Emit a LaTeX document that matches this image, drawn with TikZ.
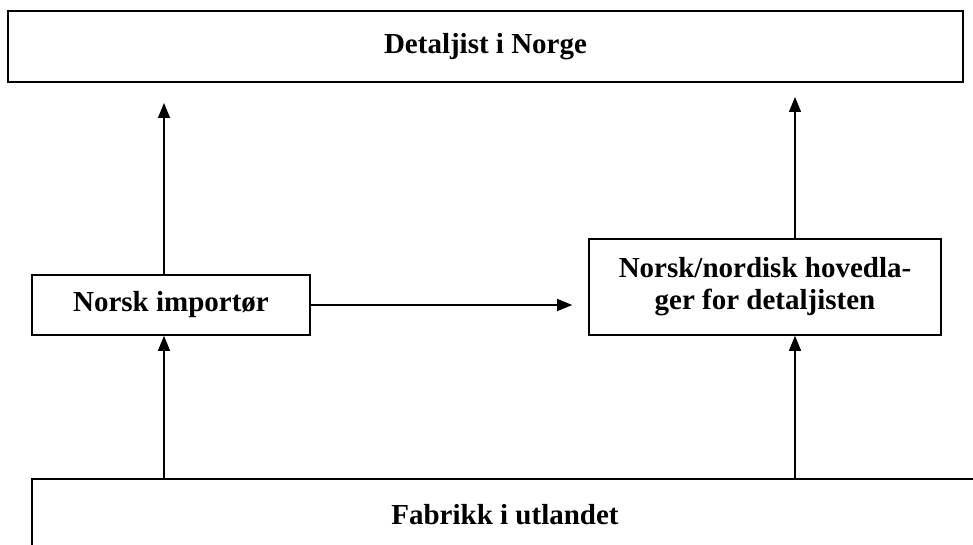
\documentclass[tikz,border=0pt]{standalone}
\usepackage{fontspec}
\setmainfont{Liberation Serif}
\usetikzlibrary{arrows.meta}
\begin{document}
\begin{tikzpicture}[x=1pt,y=-1pt,
  boxstyle/.style={draw, line width=1.6pt, inner sep=0pt, font=\fontsize{29}{32}\selectfont\bfseries},
  arr/.style={line width=1.3pt, -{Triangle[length=15pt,width=12pt]}}]
\useasboundingbox (0,0) rectangle (973,545);
\clip (0,0) rectangle (973,545);
\node[boxstyle, minimum width=955pt, minimum height=71pt] (top) at (485.5,46.5) {Detaljist i Norge};
\node[boxstyle, minimum width=278pt, minimum height=60pt] (imp) at (171,305) {Norsk importør};
\node[boxstyle, minimum width=352pt, minimum height=96pt, align=center] (hov) at (765,287) {Norsk/nordisk hovedla-\\ger for detaljisten};
\node[boxstyle, minimum width=946pt, minimum height=72pt] (fab) at (505,515) {Fabrikk i utlandet};
\coordinate (t1) at (164,103);
\coordinate (t2) at (795,97);
\draw[arr] (imp.north -| t1) -- (t1);
\draw[arr] (hov.north -| t2) -- (t2);
\draw[arr, shorten >=16pt] (imp.east) -- (hov.west |- imp.east);
\draw[arr] (fab.north -| t1) -- (imp.south -| t1);
\draw[arr] (fab.north -| t2) -- (hov.south -| t2);
\end{tikzpicture}
\end{document}
